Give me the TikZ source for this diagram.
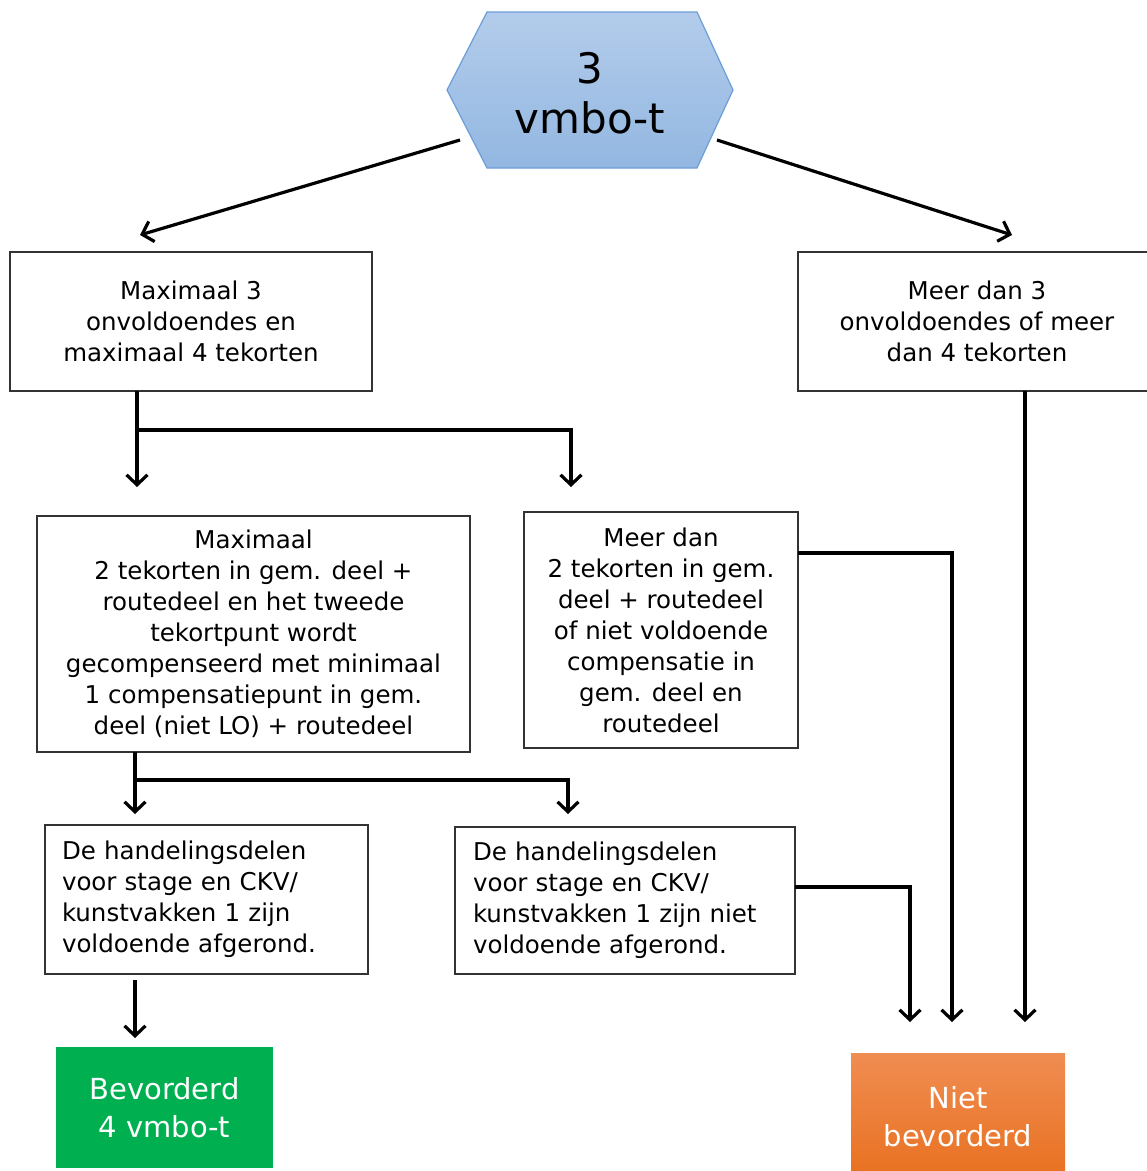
\documentclass[tikz,border=0pt]{standalone}
\usepackage{fontspec}
\setmainfont{DejaVu Sans}
\usetikzlibrary{arrows.meta}
\definecolor{hextop}{HTML}{B3CCEB}
\definecolor{hexbot}{HTML}{93B7E1}
\definecolor{hexline}{HTML}{6B9ED8}
\definecolor{okgreen}{HTML}{00B050}
\definecolor{notop}{HTML}{F08D52}
\definecolor{nobot}{HTML}{E8701F}
\begin{document}
\begin{tikzpicture}[x=1pt,y=-1pt,
        box/.style={draw=black!80,line width=1.4pt,inner sep=0pt,align=center,
            font=\fontsize{24.5}{31}\selectfont},
        endbox/.style={inner sep=0pt,align=center,text=white,
            font=\fontsize{29}{38}\selectfont},
        link/.style={line width=3.2pt,-{Straight Barb[length=10pt,width=21pt,line width=3.2pt]}}]
        \useasboundingbox (0,0) rectangle (1147,1171);
        % hexagon at the top
        \coordinate (H1) at (487,12);
        \coordinate (H2) at (697,12);
        \coordinate (H3) at (733,90);
        \coordinate (H4) at (697,168);
        \coordinate (H5) at (487,168);
        \coordinate (H6) at (447,90);
        \shade[top color=hextop,bottom color=hexbot,draw=hexline,line width=1.2pt]
            (H1)--(H2)--(H3)--(H4)--(H5)--(H6)--cycle;
        \node[align=center,font=\fontsize{42}{50}\selectfont] (hex) at (590,93) {3\\vmbo-t};
        % boxes
        \node[box,minimum width=362pt,minimum height=139pt] (A) at (191,321.5)
            {Maximaal 3\\onvoldoendes en\\maximaal 4 tekorten};
        \node[box,minimum width=358pt,minimum height=139pt] (B) at (977,321.5)
            {Meer dan 3\\onvoldoendes of meer\\dan 4 tekorten};
        \node[box,minimum width=433pt,minimum height=236pt] (C) at (253.5,634)
            {Maximaal\\2 tekorten in gem. deel +\\routedeel en het tweede\\tekortpunt wordt\\
             gecompenseerd met minimaal\\1 compensatiepunt in gem.\\deel (niet LO) + routedeel};
        \node[box,minimum width=274pt,minimum height=236pt] (D) at (661,630)
            {Meer dan\\2 tekorten in gem.\\deel + routedeel\\of niet voldoende\\
             compensatie in\\gem. deel en\\routedeel};
        \node[box,align=left,inner xsep=17pt,text width=289pt,minimum height=149pt] (E) at (206.5,899.5)
            {De handelingsdelen\\voor stage en CKV/\\kunstvakken 1 zijn\\voldoende afgerond.};
        \node[box,align=left,inner xsep=18pt,text width=304pt,minimum height=147pt] (F) at (625,900.5)
            {De handelingsdelen\\voor stage en CKV/\\kunstvakken 1 zijn niet\\voldoende afgerond.};
        \node[endbox,fill=okgreen,minimum width=217pt,minimum height=121pt] (G) at (164.5,1107.5)
            {Bevorderd\\4 vmbo-t};
        \node[endbox,top color=notop,bottom color=nobot,minimum width=214pt,minimum height=127pt] (N) at (958,1116.5)
            {Niet\\bevorderd};
        % end points of the connectors
        \coordinate (h1) at (460,140);
        \coordinate (h2) at (717,140);
        \coordinate (tA) at (140,235);
        \coordinate (tB) at (1012,235);
        \coordinate (sA) at (137,391);
        \coordinate (jA) at (137,430);
        \coordinate (tC) at (137,487);
        \coordinate (tD) at (571,487);
        \coordinate (sB) at (1025,391);
        \coordinate (sC) at (135,752);
        \coordinate (jC) at (135,780);
        \coordinate (tE) at (135,814);
        \coordinate (tF) at (568,814);
        \coordinate (dR) at (798,553);
        \coordinate (fR) at (795,887);
        \coordinate (sE) at (135,980);
        \coordinate (tG) at (135,1038);
        \coordinate (n1) at (910,1022);
        \coordinate (n2) at (952,1022);
        \coordinate (n3) at (1025,1022);
        % connectors
        \draw[link] (h1)--(tA);
        \draw[link] (h2)--(tB);
        \draw[link] (sA)--(tC);
        \draw[link] (jA)-|(tD);
        \draw[link] (sC)--(tE);
        \draw[link] (jC)-|(tF);
        \draw[link] (dR)-|(n2);
        \draw[link] (fR)-|(n1);
        \draw[link] (sB)--(n3);
        \draw[link] (sE)--(tG);
    \end{tikzpicture}
\end{document}
